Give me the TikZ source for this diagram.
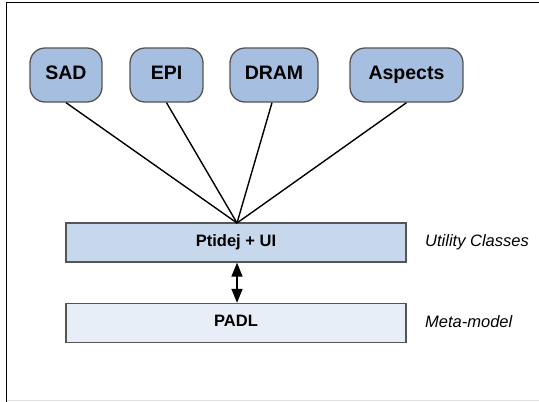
\documentclass[tikz,border=0pt]{standalone}
\usepackage{fontspec}
\setmainfont{Liberation Sans}
\usetikzlibrary{arrows.meta}
\definecolor{roundfill}{HTML}{A6BEE0}
\definecolor{utilfill}{HTML}{C7D7EC}
\definecolor{metafill}{HTML}{E7EEF8}
\definecolor{edgegray}{HTML}{555555}
\begin{document}
\begin{tikzpicture}[x=1pt,y=-1pt,
  comp/.style={draw=edgegray,line width=1.3pt,fill=roundfill,rounded corners=15pt,
    minimum height=54pt,inner sep=0pt,text height=0.85em,text depth=0pt,
    font=\fontsize{19.5}{22}\selectfont\bfseries},
  layer/.style={draw=edgegray,line width=1.3pt,minimum width=340pt,minimum height=39pt,
    inner sep=0pt,text height=0.78em,text depth=0pt,
    font=\fontsize{16.5}{19}\selectfont\bfseries},
  side/.style={anchor=west,inner sep=0pt,font=\fontsize{16.5}{19}\selectfont\itshape},
  conn/.style={draw=black,line width=1.4pt}]
\useasboundingbox (0,0) rectangle (539,402);
\fill[white] (0,0) rectangle (539,402);
\draw[black,line width=1.3pt] (6.5,402) -- (6.5,2.5) -- (539,2.5);
\draw[black!12,line width=1pt] (6.5,400.5) -- (539,400.5);
% components
\node[comp,minimum width=72pt] (sad) at (66,75) {SAD};
\node[comp,minimum width=73pt] (epi) at (166.5,75) {EPI};
\node[comp,minimum width=88pt] (dram) at (274,75) {DRAM};
\node[comp,minimum width=113pt] (asp) at (406.5,75) {Aspects};
% layers
\node[layer,fill=utilfill] (ui) at (236,242.5) {Ptidej + UI};
\node[layer,fill=metafill] (padl) at (236,323) {PADL};
\coordinate (hub) at (237,223);
% connectors
\draw[conn] (sad.south) -- (hub);
\draw[conn] (epi.south) -- (hub);
\draw[conn] ([xshift=-2pt]dram.south) -- (hub);
\draw[conn] (asp.south) -- (hub);
\draw[conn,{Triangle[width=11pt,length=14pt]}-{Triangle[width=11pt,length=14pt]}] ([xshift=1pt]ui.south) -- ([xshift=1pt]padl.north);
% side labels
\node[side] (utillbl) at (425,242) {Utility Classes};
\node[side] (metalbl) at (425,322) {Meta-model};
\end{tikzpicture}
\end{document}
